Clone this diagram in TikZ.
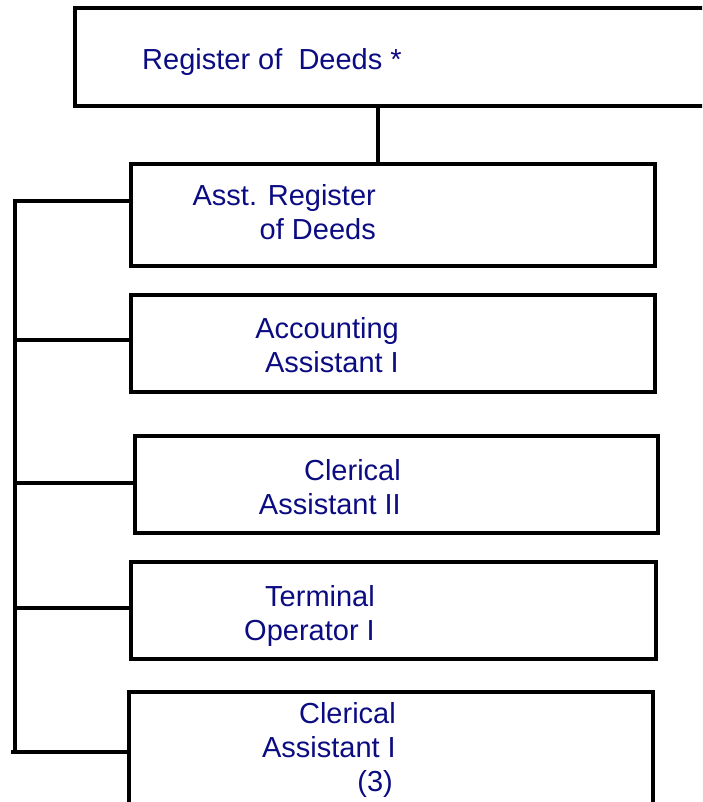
\documentclass[tikz,border=0pt]{standalone}
\usepackage{fontspec}
\setmainfont{Liberation Sans}
\definecolor{labelblue}{RGB}{12,12,130}
\begin{document}
\begin{tikzpicture}[x=1pt,y=-1pt,
  post/.style={draw=black,line width=3.5pt,anchor=north west,inner sep=0pt,outer sep=0pt},
  title/.style={text=labelblue,font=\fontsize{29pt}{34pt}\selectfont,inner sep=0pt,align=right,anchor=north east},
  link/.style={draw=black,line width=3.2pt}]
\path[use as bounding box] (0,0) rectangle (702,802);
\clip (0,0) rectangle (702,802);

% boxes
\node[post,minimum width=645pt,minimum height=98pt] (rod) at (75,8) {};
\node[post,minimum width=524pt,minimum height=102pt] (asst) at (131,164) {};
\node[post,minimum width=524pt,minimum height=97pt] (acct) at (131,295) {};
\node[post,minimum width=523pt,minimum height=97pt] (cler2) at (135,436) {};
\node[post,minimum width=525pt,minimum height=97pt] (term) at (131,562) {};
\node[post,minimum width=524pt,minimum height=125pt] (cler1) at (129,692) {};

% labels
\node[text=labelblue,font=\fontsize{29pt}{34pt}\selectfont,inner sep=0pt,anchor=base west] (rodtext) at (142,70) {Register of\ \ Deeds *};
\node[title] (assttext) at (376,184) {Asst. Register\\of Deeds};
\node[title] (accttext) at (399,317) {Accounting\\Assistant I};
\node[title] (cler2text) at (401,459) {Clerical\\Assistant II};
\node[title] (termtext) at (375,585) {Terminal\\Operator I};
\node[title] (cler1text) at (396,702) {Clerical\\Assistant I\\(3)\kern3pt};

% reporting lines
\coordinate (trunk) at (378,106);
\draw[link] (trunk) -- (trunk |- asst.north);

\coordinate (b1) at (15,201);
\coordinate (b2) at (15,340);
\coordinate (b3) at (15,483);
\coordinate (b4) at (15,608);
\coordinate (b5) at (15,752);
\draw[link] (b1) -- (b5);
\draw[link] ([xshift=-1.6pt]b1) -- (b1 -| asst.west);
\draw[link] (b2) -- (b2 -| acct.west);
\draw[link] (b3) -- (b3 -| cler2.west);
\draw[link] (b4) -- (b4 -| term.west);
\draw[link] ([xshift=-4pt]b5) -- (b5 -| cler1.west);
\end{tikzpicture}
\end{document}
